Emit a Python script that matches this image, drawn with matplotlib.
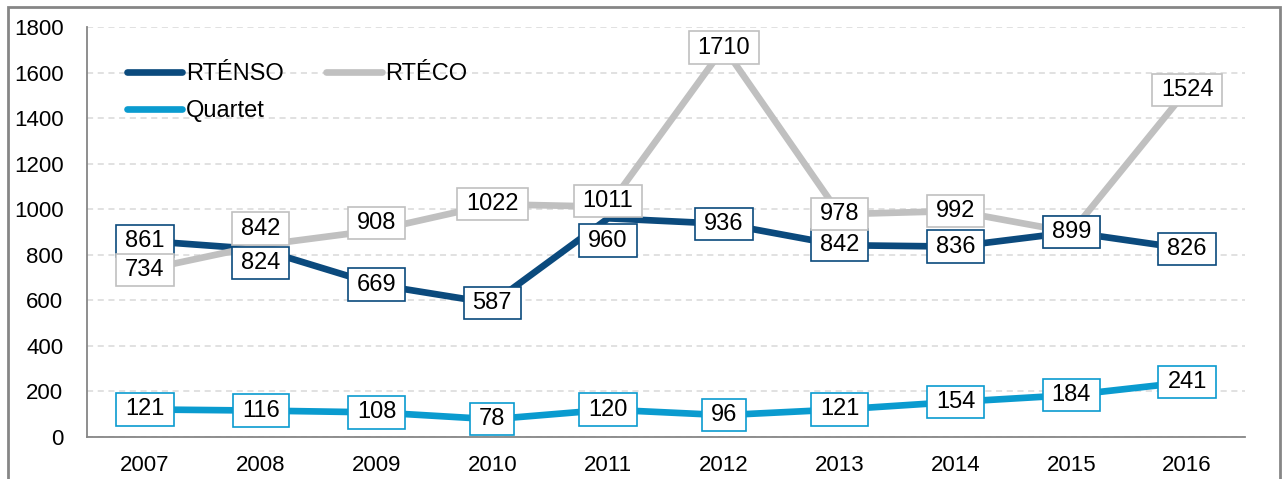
import matplotlib.pyplot as plt
from matplotlib.path import Path
from matplotlib.patches import Rectangle

plt.rcParams['font.family'] = ['Liberation Sans', 'DejaVu Sans']

years = ['2007', '2008', '2009', '2010', '2011', '2012', '2013', '2014', '2015', '2016']
rtenso = [861, 824, 669, 587, 960, 936, 842, 836, 899, 826]
rteco = [734, 842, 908, 1022, 1011, 1710, 978, 992, 899, 1524]
quartet = [121, 116, 108, 78, 120, 96, 121, 154, 184, 241]

# decalage des etiquettes (en points) la ou elles ne sont pas centrees sur le point
off_rtenso = {1: -10, 4: -16}
off_rteco = {1: 12, 2: 5, 4: 4}

c_rtenso = '#0b4a7d'
c_rteco = '#c0c0c0'
c_quartet = '#0a9bcf'


def box(x0, y0, width, height, mutation_size):
    # boite rectangulaire avec marges differentes en x et y
    px = 0.38 * mutation_size
    py = 0.22 * mutation_size
    x0, y0 = x0 - px, y0 - py
    x1, y1 = x0 + width + 2 * px, y0 + height + 2 * py
    return Path([(x0, y0), (x1, y0), (x1, y1), (x0, y1), (x0, y0)], closed=True)


fig = plt.figure(figsize=(12.87, 4.79), dpi=100)
ax = fig.add_axes([87 / 1287, 1 - 437 / 479, 1158 / 1287, 410 / 479])

x = list(range(len(years)))
l1, = ax.plot(x, rtenso, color=c_rtenso, lw=4.8, label='RTÉNSO', solid_capstyle='round', zorder=3)
l2, = ax.plot(x, rteco, color=c_rteco, lw=4.8, label='RTÉCO', solid_capstyle='round', zorder=3)
l3, = ax.plot(x, quartet, color=c_quartet, lw=4.8, label='Quartet', solid_capstyle='round', zorder=3)


def labels(vals, color, offsets, z):
    for i, v in enumerate(vals):
        zz = z
        if color == c_rtenso and i == 8:
            zz = z + 5
        ax.annotate(str(v), (i, v), xytext=(0, offsets.get(i, 0)), textcoords='offset points',
                    ha='center', va='center', fontsize=17, zorder=zz,
                    bbox=dict(boxstyle=box, fc='white', ec=color, lw=1.2))


labels(quartet, c_quartet, {}, 5)
labels(rtenso, c_rtenso, off_rtenso, 6)
labels(rteco, c_rteco, off_rteco, 7)

ax.set_xlim(-0.5, 9.5)
ax.set_ylim(0, 1800)
ax.set_yticks(range(0, 1801, 200))
ax.set_xticks(x)
ax.set_xticklabels(years)
ax.tick_params(length=0, labelsize=16)
ax.tick_params(axis='y', pad=17)
ax.tick_params(axis='x', pad=13)
ax.yaxis.grid(True, color='#d9d9d9', ls=(0, (4, 3)), lw=1.1)
ax.set_axisbelow(True)
for s in ['top', 'right']:
    ax.spines[s].set_visible(False)
for s in ['left', 'bottom']:
    ax.spines[s].set_color('#868686')
    ax.spines[s].set_linewidth(1.3)

ax.legend([l1, l3, l2], ['RTÉNSO', 'Quartet', 'RTÉCO'], loc='upper left',
          bbox_to_anchor=(0.0345, 0.912), ncol=2, frameon=False, borderaxespad=0,
          borderpad=0, fontsize=17, handlelength=2.35, handletextpad=0.15,
          columnspacing=1.8, labelspacing=0.65)

# cadre exterieur du graphique
fig.patches.append(Rectangle((8 / 1287, -0.1), 1272 / 1287, 1.1 - 7 / 479,
                             transform=fig.transFigure, fill=False, ec='#868686', lw=2))

fig.savefig('out.png', dpi=100)
